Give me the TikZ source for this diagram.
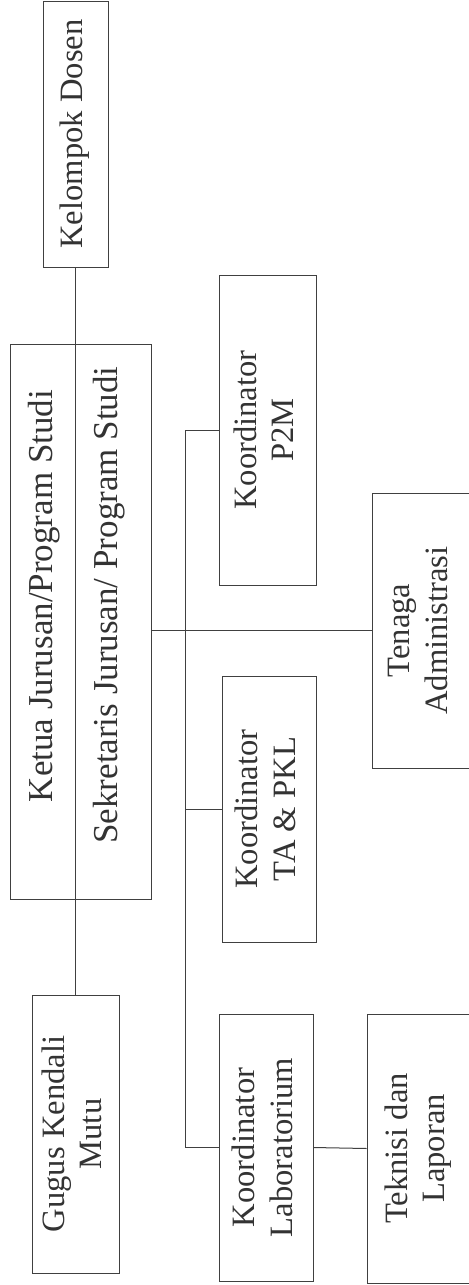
\documentclass[tikz,border=0pt]{standalone}
\usepackage{fontspec}
\setmainfont{Liberation Serif}
\usepackage{graphicx}
\usepackage{tikz}
\usetikzlibrary{positioning}
\tikzstyle{jabatan} = [draw=black!75, line width=0.5pt, rectangle, inner sep=0pt,
    text=black!80, font=\fontsize{16.3}{18.6}\selectfont]
\tikzstyle{teks} = [inner sep=0pt, text=black!80, font=\fontsize{17.5}{21}\selectfont]
\tikzstyle{garis} = [draw=black!75, line width=0.5pt]
\newcommand{\putar}[1]{\rotatebox{90}{\begin{tabular}{@{}c@{}}#1\end{tabular}}}

\begin{document}
\begin{tikzpicture}[x=0.5pt, y=-0.5pt]
      \useasboundingbox (0,0) rectangle (468,1285);
      \node [jabatan, minimum width=32.5pt, minimum height=133pt] (dosen) at (75.5,134) {\putar{Kelompok Dosen}};
      \node [jabatan, minimum width=70.5pt, minimum height=277.5pt] (pimpinan) at (80.5,621.5) {};
      \node [teks] (ketua) at (43.8,596) {\rotatebox{90}{Ketua Jurusan/Program Studi}};
      \node [teks] (sekretaris) at (109,605) {\rotatebox{90}{Sekretaris Jurusan/ Program Studi}};
      \node [jabatan, minimum width=43.5pt, minimum height=139pt] (gugus) at (75.5,1134) {\putar{Gugus Kendali\\Mutu}};
      \node [jabatan, minimum width=48.5pt, minimum height=155pt] (p2m) at (267.5,430) {\putar{Koordinator\\P2M}};
      \node [jabatan, minimum width=47pt, minimum height=133pt] (tapkl) at (269,809) {\putar{Koordinator\\TA \& PKL}};
      \node [jabatan, minimum width=47pt, minimum height=133.5pt] (lab) at (266,1147.5) {\putar{Koordinator\\Laboratorium}};
      \node [jabatan, minimum width=49pt, minimum height=137.5pt] (tenaga) at (421,630.5) {\putar{Tenaga\\Administrasi}};
      \node [jabatan, minimum width=51.5pt, minimum height=134.5pt] (teknisi) at (418.5,1148.5) {\putar{Teknisi dan\\Laporan}};
      \coordinate (bus) at (185,430);

      \draw [garis] (dosen.south) -- (gugus.north);
      \draw [garis] (pimpinan.east |- tenaga.west) -- (tenaga.west);
      \draw [garis] (p2m.west) -| (bus |- lab.west) -- (lab.west);
      \draw [garis] (tapkl.west) -- (bus |- tapkl.west);
      \draw [garis] (lab.east) -- (teknisi.west);
    \end{tikzpicture}
\end{document}
